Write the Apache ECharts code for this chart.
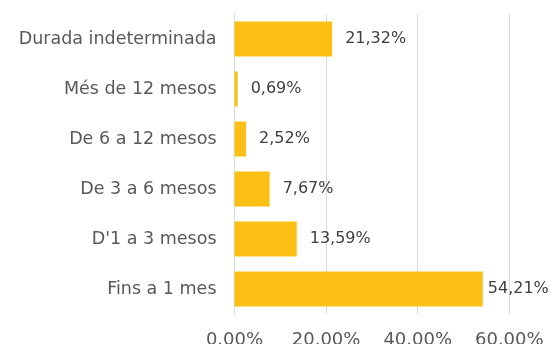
<!DOCTYPE html>
<html>
<head>
<meta charset="utf-8">
<script src="https://cdn.jsdelivr.net/npm/echarts@6/dist/echarts.min.js"></script>
<style>
  html, body { margin: 0; padding: 0; background: #ffffff; }
  #chart { width: 550px; height: 344px; }
</style>
</head>
<body>
<div id="chart"></div>
<script>
// Durada del contracte: percentatge per categoria (de dalt a baix)
const categories = [
  'Durada indeterminada',
  'Més de 12 mesos',
  'De 6 a 12 mesos',
  'De 3 a 6 mesos',
  "D'1 a 3 mesos",
  'Fins a 1 mes'
];
const values = [21.32, 0.69, 2.52, 7.67, 13.59, 54.21];
const axisTicks = [0, 20, 40, 60];

const FONT = 'DejaVu Sans';
const fmtComma = v => v.toFixed(2).replace('.', ',') + '%';
const fmtDot = v => v.toFixed(2) + '%';

// The longest bar's label sits closer to the bar so it stays inside the canvas
const maxValue = Math.max(...values);
const barData = values.map(v => v === maxValue
  ? { value: v, label: { distance: 5 } }
  : v);

const chart = echarts.init(document.getElementById('chart'), null, { renderer: 'canvas' });
chart.setOption({
  animation: false,
  backgroundColor: '#ffffff',
  grid: {
    left: 234.5, right: 40.7, top: 14, bottom: 30,
    containLabel: false,
    outerBoundsMode: 'none'
  },
  xAxis: {
    type: 'value',
    min: axisTicks[0],
    max: axisTicks[axisTicks.length - 1],
    interval: axisTicks[1] - axisTicks[0],
    axisLine: { show: false },
    axisTick: { show: false },
    splitLine: { show: true, lineStyle: { color: '#d9d9d9', width: 1 } },
    axisLabel: {
      formatter: fmtDot,
      color: '#595959',
      fontFamily: FONT,
      fontSize: 18,
      margin: 17
    }
  },
  yAxis: {
    type: 'category',
    data: categories,
    inverse: true,
    axisLine: { show: true, lineStyle: { color: '#d9d9d9', width: 1 } },
    axisTick: { show: false },
    axisLabel: {
      color: '#595959',
      fontFamily: FONT,
      fontSize: 17.5,
      margin: 18
    }
  },
  series: [{
    type: 'bar',
    data: barData,
    barCategoryGap: '30%',
    itemStyle: { color: '#fcbf14' },
    label: {
      show: true,
      position: 'right',
      distance: 13,
      formatter: p => fmtComma(p.value),
      color: '#404040',
      fontFamily: FONT,
      fontSize: 16
    }
  }]
});
</script>
</body>
</html>
